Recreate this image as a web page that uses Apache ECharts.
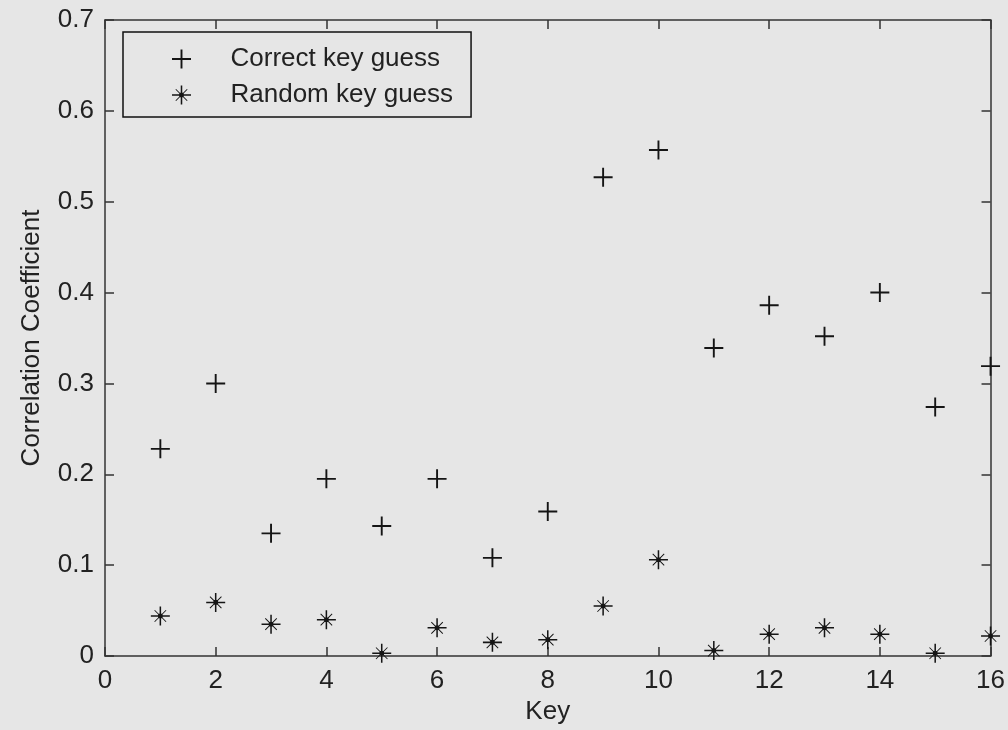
<!DOCTYPE html>
<html>
<head>
<meta charset="utf-8">
<script src="https://cdn.jsdelivr.net/npm/echarts@6/dist/echarts.min.js"></script>
<style>
html,body{margin:0;padding:0;background:#e6e6e6;}
#chart{width:1008px;height:730px;}
</style>
</head>
<body>
<div id="chart"></div>
<script>
var keys = [1,2,3,4,5,6,7,8,9,10,11,12,13,14,15,16];
var correctGuess = [0.228,0.300,0.135,0.195,0.143,0.195,0.108,0.159,0.527,0.557,0.339,0.386,0.352,0.400,0.274,0.319];
var randomGuess = [0.044,0.059,0.035,0.040,0.003,0.031,0.015,0.018,0.055,0.106,0.006,0.024,0.031,0.024,0.003,0.022];
var xTicks = {min:0, max:16, interval:2};
var yTicks = {min:0, max:0.7, interval:0.1};
var seriesNames = ['Correct key guess','Random key guess'];

var plusPath = 'path://M9,0 H11 V9 H20 V11 H11 V20 H9 V11 H0 V9 H9 Z';
var starPath = 'path://M9.2,0 H10.8 V9.2 H20 V10.8 H10.8 V20 H9.2 V10.8 H0 V9.2 H9.2 Z ' +
  'M3.6,4.3 L4.3,3.6 L16.4,15.7 L15.7,16.4 Z ' +
  'M15.7,3.6 L16.4,4.3 L4.3,16.4 L3.6,15.7 Z ' +
  'M7.6,7.6 H12.4 V12.4 H7.6 Z';

function pairs(xs, ys){ return xs.map(function(x,i){ return [x, ys[i]]; }); }

var font = 'Liberation Sans, Arial, sans-serif';
var axisColor = '#333';
var textColor = '#222';

function frameAxis(extra){
  var base = {
    axisLine:{show:true, onZero:false, lineStyle:{color:axisColor, width:1.5}},
    axisTick:{show:true, inside:true, length:9, lineStyle:{color:axisColor, width:1.5}},
    splitLine:{show:false}
  };
  for (var k in extra) base[k] = extra[k];
  return base;
}

var chart = echarts.init(document.getElementById('chart'), null, {renderer:'canvas'});
chart.setOption({
  backgroundColor:'#e6e6e6',
  animation:false,
  textStyle:{fontFamily:font},
  grid:{left:105, right:16, top:20, bottom:72, containLabel:false},
  legend:{
    orient:'vertical', left:123, top:32,
    padding:[14,18,9,49],
    itemWidth:88, itemHeight:19, itemGap:10,
    borderColor:'#111', borderWidth:1.5, backgroundColor:'#e6e6e6',
    textStyle:{fontFamily:font, fontSize:26, color:textColor, lineHeight:26},
    data:[{name:seriesNames[0], icon:plusPath},{name:seriesNames[1], icon:starPath}]
  },
  xAxis:[frameAxis({
    type:'value', min:xTicks.min, max:xTicks.max, interval:xTicks.interval,
    position:'bottom',
    name:'Key', nameLocation:'middle', nameGap:43,
    nameTextStyle:{fontFamily:font, fontSize:26, color:textColor},
    axisLabel:{fontFamily:font, fontSize:26, color:textColor, margin:12, lineHeight:26}
  }), frameAxis({
    type:'value', min:xTicks.min, max:xTicks.max, interval:xTicks.interval,
    position:'top',
    axisLabel:{show:false}
  })],
  yAxis:[frameAxis({
    type:'value', min:yTicks.min, max:yTicks.max, interval:yTicks.interval,
    position:'left',
    name:'Correlation Coefficient', nameLocation:'middle', nameGap:60, nameRotate:90,
    nameTextStyle:{fontFamily:font, fontSize:26, color:textColor},
    axisLabel:{fontFamily:font, fontSize:26, color:textColor, margin:11}
  }), frameAxis({
    type:'value', min:yTicks.min, max:yTicks.max, interval:yTicks.interval,
    position:'right',
    axisLabel:{show:false}
  })],
  series:[{
    name:seriesNames[0], type:'scatter', xAxisIndex:0, yAxisIndex:0,
    symbol:plusPath, symbolSize:19, symbolKeepAspect:true, clip:false,
    itemStyle:{color:'#151515', opacity:1},
    data:pairs(keys, correctGuess)
  },{
    name:seriesNames[1], type:'scatter', xAxisIndex:0, yAxisIndex:0,
    symbol:starPath, symbolSize:19, symbolKeepAspect:true, clip:false,
    itemStyle:{color:'#151515', opacity:1},
    data:pairs(keys, randomGuess)
  }]
});
</script>
</body>
</html>
